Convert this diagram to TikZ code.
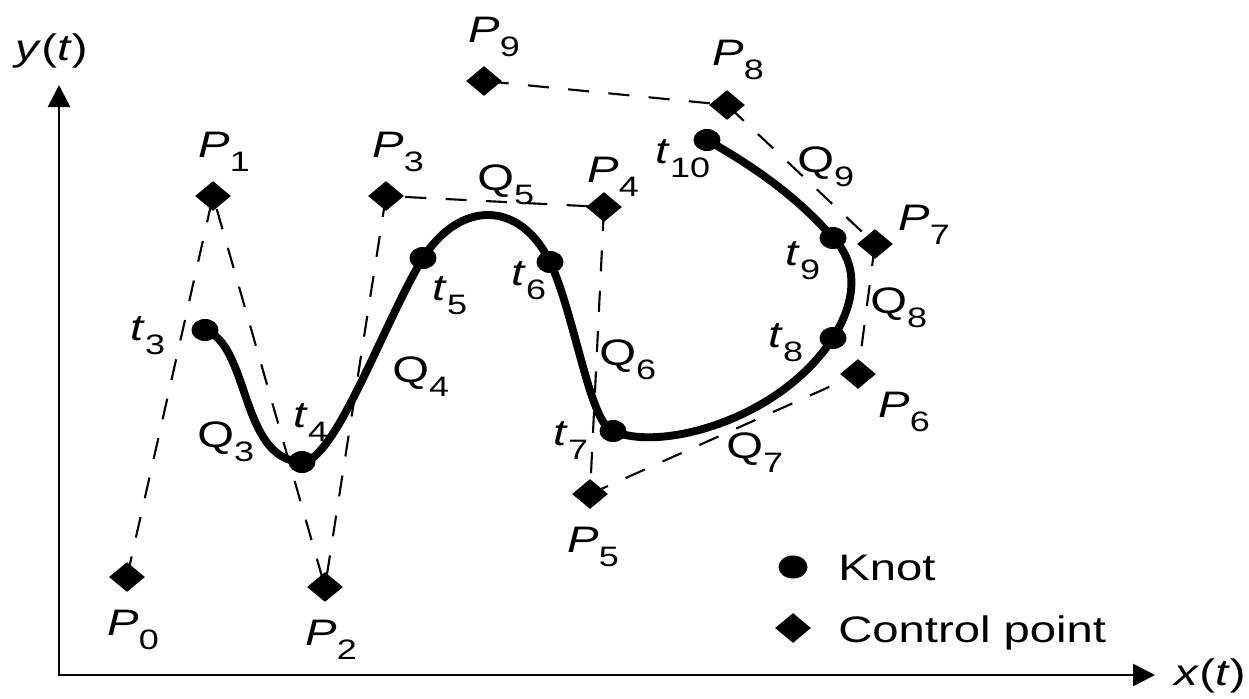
\documentclass[tikz,border=0pt]{standalone}
\usepackage{fontspec}
\setmainfont{Liberation Sans}[FakeStretch=1.28]
\usetikzlibrary{shapes.geometric,arrows.meta}
\newcommand{\lbl}[2]{#1\raisebox{-0.4em}{\fontsize{16}{16}\selectfont #2}}
\begin{document}
\begin{tikzpicture}[x=0.02cm,y=-0.02cm,
  font=\fontsize{21}{25}\selectfont,
  ctrl/.style={shape=diamond, fill=black, inner sep=0pt, minimum width=0.72cm, minimum height=0.6cm},
  knot/.style={shape=ellipse, fill=black, inner sep=0pt, minimum width=0.54cm, minimum height=0.44cm},
  poly/.style={dash pattern=on 12pt off 11pt, line width=1.2pt},
  curvestyle/.style={line width=4.5pt},
  axis/.style={line width=1.5pt, {Triangle[length=0.44cm,width=0.44cm]}-{Triangle[length=0.44cm,width=0.44cm]}},
  lab/.style={anchor=base west, inner sep=0pt}]
\useasboundingbox (0,0) rectangle (1249,698);
% axes
\coordinate (Y) at (59,85);
\coordinate (O) at (59,675);
\coordinate (X) at (1155,675);
\draw[axis] (Y) -- (O) -- (X);
\node[lab] (ylab) at (15,60) {\textit{y}(\textit{t})};
\node[lab] (xlab) at (1174,685) {\textit{x}(\textit{t})};
% control points
\node[ctrl] (P0) at (127,577) {};
\node[ctrl] (P1) at (213,196) {};
\node[ctrl] (P2) at (325,587) {};
\node[ctrl] (P3) at (386,196) {};
\node[ctrl] (P4) at (604,207) {};
\node[ctrl] (P5) at (590,494) {};
\node[ctrl] (P6) at (858,374) {};
\node[ctrl] (P7) at (875,244) {};
\node[ctrl] (P8) at (727,105) {};
\node[ctrl] (P9) at (484,81) {};
\draw[poly] (P0.center) -- (P1.center) -- (P2.center) -- (P3.center) -- (P4.center)
  -- (P5.center) -- (P6.center) -- (P7.center) -- (P8.center) -- (P9.center);
% knots
\node[knot] (t3) at (205,330) {};
\node[knot] (t4) at (302,462) {};
\node[knot] (t5) at (423,258) {};
\node[knot] (t6) at (550,262) {};
\node[knot] (t7) at (613,431) {};
\node[knot] (t8) at (833,338) {};
\node[knot] (t9) at (833,238) {};
\node[knot] (t10) at (707,140) {};
\draw[curvestyle] (t3.center) .. controls (250,345) and (240,460) .. (t4.center)
  .. controls (335,462) and (385,320) .. (t5.center)
  .. controls (460,200) and (520,200) .. (t6.center)
  .. controls (575,315) and (590,425) .. (t7.center)
  .. controls (660,452) and (780,420) .. (t8.center)
  .. controls (860,295) and (855,260) .. (t9.center)
  .. controls (800,200) and (760,170) .. (t10.center);
% labels
\node[lab] (lP0) at (107,635) {\lbl{\textit{P}}{0}};
\node[lab] (lP1) at (198,157) {\lbl{\textit{P}}{1}};
\node[lab] (lP2) at (305,645) {\lbl{\textit{P}}{2}};
\node[lab] (lP3) at (372,157) {\lbl{\textit{P}}{3}};
\node[lab] (lP4) at (587,182) {\lbl{\textit{P}}{4}};
\node[lab] (lP5) at (567,552) {\lbl{\textit{P}}{5}};
\node[lab] (lP6) at (878,417) {\lbl{\textit{P}}{6}};
\node[lab] (lP7) at (898,230) {\lbl{\textit{P}}{7}};
\node[lab] (lP8) at (712,65) {\lbl{\textit{P}}{8}};
\node[lab] (lP9) at (468,42) {\lbl{\textit{P}}{9}};
\node[lab] (lt3) at (130,340) {\lbl{\textit{t}}{3}};
\node[lab] (lt4) at (293,427) {\lbl{\textit{t}}{4}};
\node[lab] (lt5) at (432,300) {\lbl{\textit{t}}{5}};
\node[lab] (lt6) at (511,285) {\lbl{\textit{t}}{6}};
\node[lab] (lt7) at (553,445) {\lbl{\textit{t}}{7}};
\node[lab] (lt8) at (768,347) {\lbl{\textit{t}}{8}};
\node[lab] (lt9) at (785,265) {\lbl{\textit{t}}{9}};
\node[lab] (lt10) at (655,163) {\lbl{\textit{t}}{10}};
\node[lab] (lQ3) at (197,447) {\lbl{Q}{3}};
\node[lab] (lQ4) at (392,382) {\lbl{Q}{4}};
\node[lab] (lQ5) at (477,190) {\lbl{Q}{5}};
\node[lab] (lQ6) at (599,365) {\lbl{Q}{6}};
\node[lab] (lQ7) at (726,458) {\lbl{Q}{7}};
\node[lab] (lQ8) at (870,313) {\lbl{Q}{8}};
\node[lab] (lQ9) at (797,172) {\lbl{Q}{9}};
% legend
\node[knot, minimum width=0.58cm, minimum height=0.46cm] (legK) at (793,567) {};
\node[lab] (legKt) at (838,580) {Knot};
\node[ctrl] (legC) at (793,628) {};
\node[lab] (legCt) at (838,642) {Control point};
\end{tikzpicture}
\end{document}
